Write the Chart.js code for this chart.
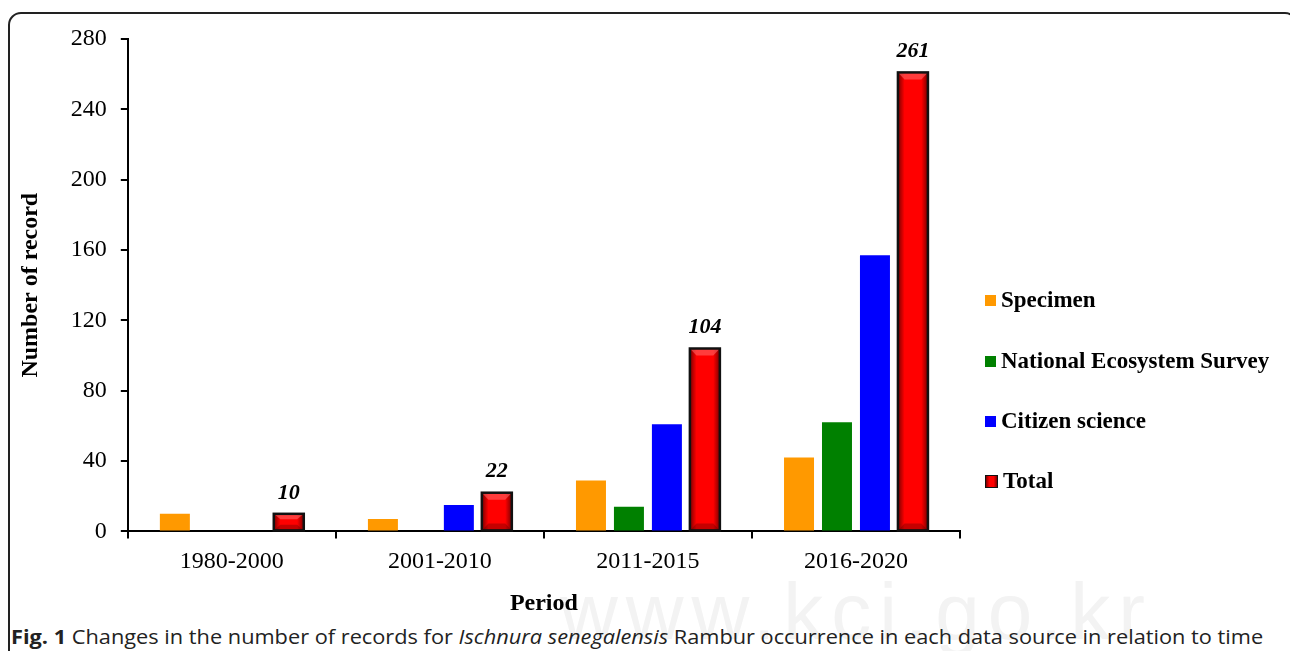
<!DOCTYPE html>
<html>
<head>
<meta charset="utf-8">
<script src="https://cdn.jsdelivr.net/npm/chart.js@4/dist/chart.umd.min.js"></script>
<style>
  html, body { margin: 0; padding: 0; background: #fff; }
  body { width: 1290px; height: 651px; position: relative; overflow: hidden; }
  #frame { position: absolute; left: 8px; top: 12px; width: 1290px; height: 700px;
           border: 2px solid #222; border-radius: 13px; box-sizing: border-box; }
  #wrap { position: absolute; left: 0; top: 0; width: 1290px; height: 618px; }
  #legend { position: absolute; left: 985px; top: 0; font-family: "Liberation Serif", serif;
            font-weight: bold; font-size: 23px; color: #000; }
  .item { position: absolute; left: 0; white-space: nowrap; display: flex; align-items: center; }
  .box { width: 11px; height: 11px; margin-right: 5px; box-sizing: border-box; }
  #mark { position: absolute; left: 560px; top: 566px; font-family: "Liberation Sans", sans-serif;
          font-size: 80px; color: #f3f3f3; letter-spacing: 8px; }
  #caption { position: absolute; left: 11px; top: 623px; font-family: "Open Sans", sans-serif;
             font-size: 20px; color: #222; white-space: nowrap; transform-origin: 0 0; }
</style>
</head>
<body>
<div id="frame"></div>
<div id="mark">www.kci.go.kr</div>
<div id="wrap"><canvas id="c1"></canvas></div>
<div id="legend"></div>
<div id="caption"><b>Fig. 1</b> Changes in the number of records for <i>Ischnura senegalensis</i> Rambur occurrence in each data source in relation to time</div>
<script>
const periods = ['1980-2000', '2001-2010', '2011-2015', '2016-2020'];
const specimen = [10, 7, 29, 42];
const survey = [0, 0, 14, 62];
const citizen = [0, 15, 61, 157];
const total = [10, 22, 104, 261];
const yTicks = [0, 40, 80, 120, 160, 200, 240, 280];

const seriesNames = ['Specimen', 'National Ecosystem Survey', 'Citizen science', 'Total'];
const seriesColors = ['#ff9900', '#008000', '#0000ff', '#ff0000'];

const serif = '"Liberation Serif", "Times New Roman", serif';

// bevelled look for the Total bars plus their value labels
const totalPlugin = {
    id: 'totalBars',
    afterDatasetsDraw(chart) {
        const c = chart.ctx;
        const meta = chart.getDatasetMeta(3);
        meta.data.forEach((bar, i) => {
            const w = bar.width, l = bar.x - w / 2, r = bar.x + w / 2;
            const top = bar.y, bot = bar.base;
            const g = c.createLinearGradient(l, 0, r, 0);
            g.addColorStop(0, '#7a0000');
            g.addColorStop(0.22, '#ff0000');
            g.addColorStop(0.78, '#ff0000');
            g.addColorStop(1, '#7a0000');
            c.save();
            c.fillStyle = g;
            c.fillRect(l, top, w, bot - top);
            // lighter cap at the top and darker foot
            const h = Math.min(7, (bot - top) / 3);
            c.fillStyle = 'rgba(255,120,120,0.5)';
            c.beginPath();
            c.moveTo(l, top); c.lineTo(r, top); c.lineTo(r - w * 0.22, top + h); c.lineTo(l + w * 0.22, top + h);
            c.closePath(); c.fill();
            c.fillStyle = 'rgba(90,0,0,0.35)';
            c.beginPath();
            c.moveTo(l, bot); c.lineTo(r, bot); c.lineTo(r - w * 0.22, bot - h); c.lineTo(l + w * 0.22, bot - h);
            c.closePath(); c.fill();
            c.strokeStyle = '#111';
            c.lineWidth = 2.5;
            c.strokeRect(l, top, w, bot - top);
            c.fillStyle = '#000';
            c.font = 'italic bold 22px ' + serif;
            c.textAlign = 'center';
            c.textBaseline = 'bottom';
            c.fillText(String(total[i]), bar.x, top - 10);
            c.restore();
        });
    }
};

const data = {
    labels: periods,
    datasets: [specimen, survey, citizen, total].map((vals, k) => ({
        label: seriesNames[k],
        data: vals,
        backgroundColor: seriesColors[k],
        borderWidth: 0,
        categoryPercentage: 0.73,
        barPercentage: 0.79
    }))
};

const options = {
    responsive: true,
    maintainAspectRatio: false,
    animation: false,
    layout: { padding: { top: 39, right: 330, left: 16, bottom: 0 } },
    scales: {
        x: {
            grid: { display: true, drawOnChartArea: false, offset: true, tickLength: 7, color: '#000', lineWidth: 2 },
            border: { display: true, color: '#000', width: 2 },
            ticks: { color: '#000', font: { family: serif, size: 24 }, padding: 9 },
            title: { display: true, text: 'Period', color: '#000', font: { family: serif, size: 24, weight: 'bold' }, padding: { top: 4, bottom: 0 } }
        },
        y: {
            min: 0,
            max: 280,
            afterBuildTicks(axis) { axis.ticks = yTicks.map(v => ({ value: v })); },
            grid: { display: true, drawOnChartArea: false, tickLength: 7, color: '#000', lineWidth: 2 },
            border: { display: true, color: '#000', width: 2 },
            ticks: { color: '#000', font: { family: serif, size: 24 }, padding: 14 },
            title: { display: true, text: 'Number of record', color: '#000', font: { family: serif, size: 24, weight: 'bold' }, padding: { top: 0, bottom: 12 } }
        }
    },
    plugins: {
        legend: { display: false },
        tooltip: { enabled: false }
    }
};

const c1 = new Chart(document.getElementById('c1'), {
    type: 'bar',
    data: data,
    options: options,
    plugins: [totalPlugin]
});

// legend on the right, built from the same series lists
const legend = document.getElementById('legend');
const rowTops = [287, 348, 408, 468];
seriesNames.forEach((name, k) => {
    const item = document.createElement('div');
    item.className = 'item';
    item.style.top = rowTops[k] + 'px';
    const box = document.createElement('span');
    box.className = 'box';
    if (k === 3) {
        box.style.background = 'linear-gradient(90deg,#7a0000,#ff0000 30%,#ff0000 70%,#7a0000)';
        box.style.border = '1.5px solid #111';
        box.style.width = '13px'; box.style.height = '13px';
    } else {
        box.style.background = seriesColors[k];
    }
    item.appendChild(box);
    item.appendChild(document.createTextNode(name));
    legend.appendChild(item);
});

// fit the caption to the width it has in the figure
const cap = document.getElementById('caption');
cap.style.transform = 'scaleX(' + (1252 / cap.offsetWidth) + ')';
</script>
</body>
</html>
